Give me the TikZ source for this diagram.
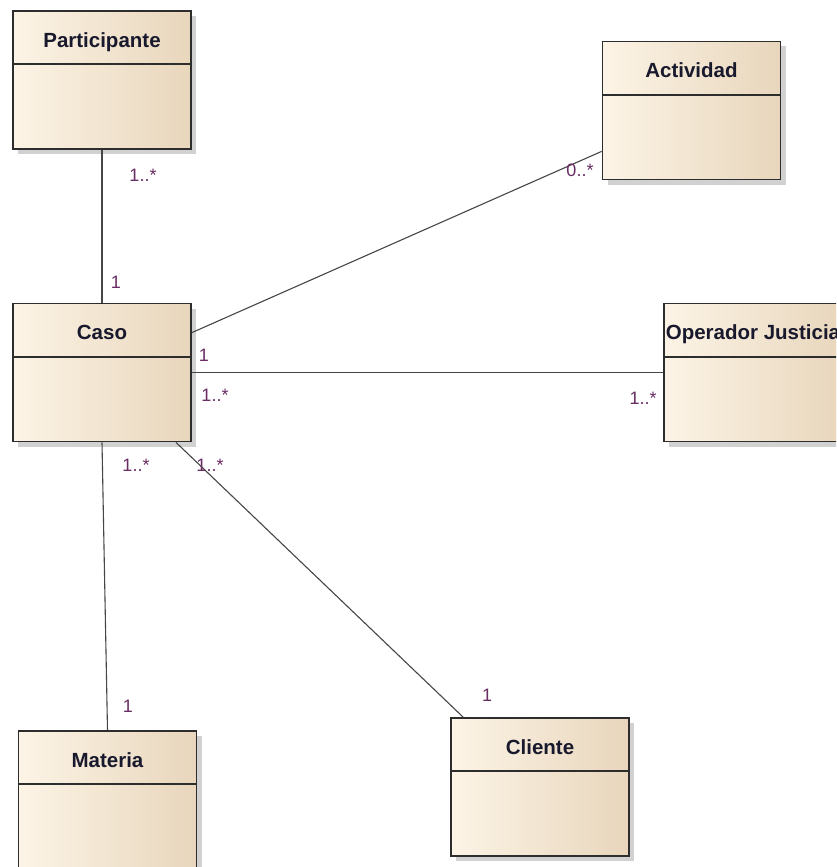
\documentclass[tikz,border=0pt]{standalone}
\usepackage{fontspec}
\setmainfont{Liberation Sans}
\usetikzlibrary{shadows,calc}
\definecolor{fillL}{RGB}{252,244,230}
\definecolor{fillR}{RGB}{232,214,188}
\definecolor{edgec}{RGB}{45,45,45}
\definecolor{connc}{RGB}{70,70,70}
\definecolor{multc}{RGB}{105,45,100}
\definecolor{titlec}{RGB}{25,25,45}
\newcommand{\umlbox}[4]{%
  \node[umlclass] (#1) at (#2,#3) {};
  \draw[divider] ($(#1.north west)+(0,54)$) -- ($(#1.north east)+(0,54)$);
  \node[classtitle] (#1-t) at ($(#1.north)+(0,30)$) {#4};
}
\begin{document}
\begin{tikzpicture}[x=1pt,y=-1pt,
  umlclass/.style={draw=edgec, line width=1.8pt, left color=fillL, right color=fillR,
    minimum width=178pt, minimum height=138pt, inner sep=0pt,
    drop shadow={shadow xshift=5pt, shadow yshift=-5pt, fill=black!40, opacity=0.45}},
  divider/.style={draw=edgec, line width=1.8pt},
  classtitle/.style={font=\bfseries\fontsize{20.5}{24}\selectfont, text=titlec,
    inner sep=0pt, text height=14.5pt, text depth=0pt},
  multlabel/.style={font=\fontsize{18}{21}\selectfont, text=multc,
    inner sep=0pt, text height=13pt, text depth=0pt},
  assoc/.style={draw=connc, line width=1.1pt}]
\clip (0,0) rectangle (836,867);
\fill[white] (0,0) rectangle (836,867);

% classes
\umlbox{part}{102}{80}{Participante}
\umlbox{act}{691.5}{110.5}{Actividad}
\umlbox{caso}{102}{372.5}{Caso}
\umlbox{oper}{753}{372.5}{Operador Justicia}
\umlbox{mat}{107.5}{800}{Materia}
\umlbox{cli}{540}{787}{Cliente}

% associations
\draw[assoc] (part.south) -- (caso.north);
\draw[assoc] ($(caso.north east)+(0,30)$) -- ($(act.south west)+(0,-29)$);
\draw[assoc] (caso.east) -- (oper.west);
\draw[assoc] (caso.south) -- (mat.north);
\draw[assoc] ($(caso.south)+(74,0)$) -- ($(cli.north west)+(13,0)$);

% multiplicities
\node[multlabel] (m1) at (143,175) {1..*};
\node[multlabel] (m2) at (116,282) {1};
\node[multlabel] (m3) at (580,170) {0..*};
\node[multlabel] (m4) at (204,355) {1};
\node[multlabel] (m5) at (215,395) {1..*};
\node[multlabel] (m6) at (643,398) {1..*};
\node[multlabel] (m7) at (136,465) {1..*};
\node[multlabel] (m8) at (210,465) {1..*};
\node[multlabel] (m9) at (128,706) {1};
\node[multlabel] (m10) at (487,695) {1};
\end{tikzpicture}
\end{document}
